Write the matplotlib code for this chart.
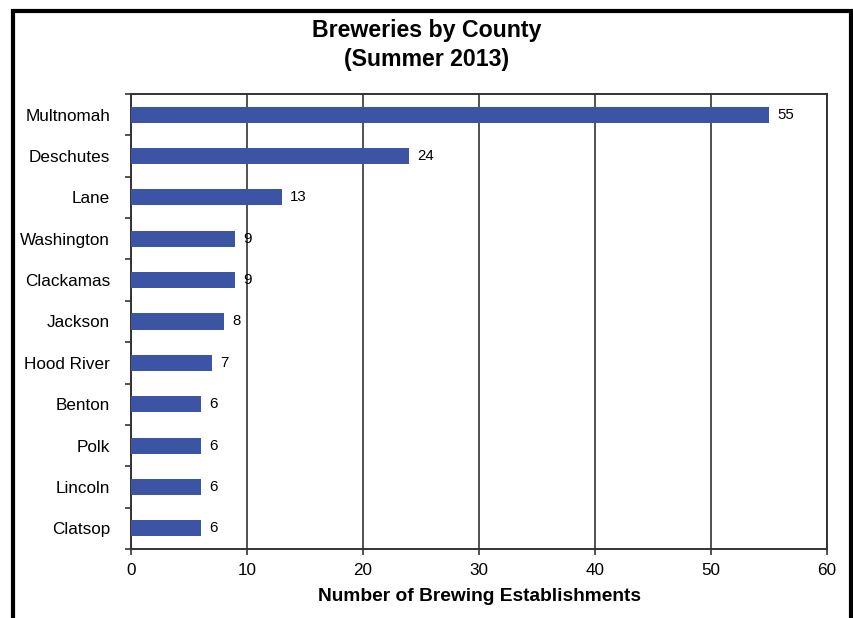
import matplotlib
matplotlib.use("Agg")
import matplotlib.pyplot as plt
from matplotlib.lines import Line2D
import numpy as np

plt.rcParams["font.family"] = ["Liberation Sans", "DejaVu Sans"]

# data
counties = ["Multnomah", "Deschutes", "Lane", "Washington", "Clackamas",
            "Jackson", "Hood River", "Benton", "Polk", "Lincoln", "Clatsop"]
counts = [55, 24, 13, 9, 9, 8, 7, 6, 6, 6, 6]
xticks = [0, 10, 20, 30, 40, 50, 60]

BAR = "#3B54A3"
GRID = "#333333"

fig = plt.figure(figsize=(8.54, 6.18), dpi=100)
ax = fig.add_axes([0.1534, 0.1117, 0.8150, 0.7362])

y = np.arange(len(counties))
bars = ax.barh(y, counts, height=0.39, color=BAR, zorder=3)
ax.bar_label(bars, labels=[str(c) for c in counts], padding=6, fontsize=10.8)

ax.set_xlim(0, 60)
ax.set_ylim(len(counties) - 0.5, -0.5)
ax.set_xticks(xticks)
ax.set_yticks(y)
ax.set_yticklabels(counties)
ax.set_yticks(np.arange(len(counties) + 1) - 0.5, minor=True)

ax.tick_params(axis="y", which="major", length=0, pad=15, labelsize=12.3)
ax.tick_params(axis="y", which="minor", length=4, width=1.2, color=GRID)
ax.tick_params(axis="x", length=4, width=1.2, color=GRID, pad=6, labelsize=12.3)

ax.grid(axis="x", color=GRID, lw=1.2, zorder=1)
for s in ax.spines.values():
    s.set_color(GRID)
    s.set_linewidth(1.4)

ax.set_xlabel("Number of Brewing Establishments", fontsize=13.8,
              fontweight="bold", labelpad=7)
fig.text(0.5, 0.927, "Breweries by County\n(Summer 2013)", ha="center",
         va="center", fontsize=16.7, fontweight="bold", linespacing=1.3)

# outer frame (bottom edge falls outside the picture)
W, H = 854, 618
xs = [13 / W, 13 / W, 851.5 / W, 851.5 / W]
ys = [-0.05, 1 - 11 / H, 1 - 11 / H, -0.05]
fig.add_artist(Line2D(xs, ys, color="black", lw=3, transform=fig.transFigure,
                      solid_joinstyle="miter"))

fig.savefig("out.png", dpi=100)
